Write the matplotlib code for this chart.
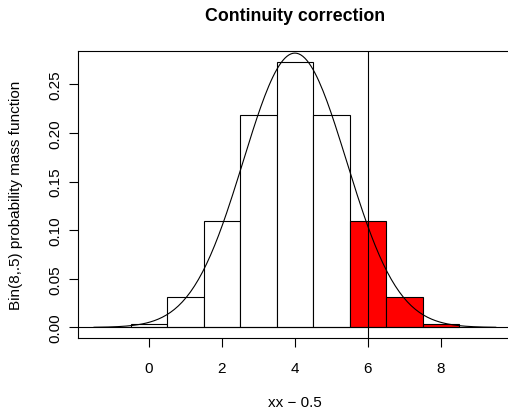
import numpy as np
import matplotlib; matplotlib.use("Agg")
import matplotlib.pyplot as plt

plt.rcParams["font.family"] = ["Liberation Sans", "DejaVu Sans"]

# Bin(8, .5) pmf
xx = [0, 1, 2, 3, 4, 5, 6, 7, 8]
pmf = [0.0039, 0.0313, 0.1094, 0.2188, 0.2734, 0.2188, 0.1094, 0.0313, 0.0039]
shaded = [6, 7, 8]          # upper tail, drawn in red
cut = 6                     # vertical line
mu, sd = 4.0, 1.414         # normal approximation
curve_lo, curve_hi = -1.5, 9.5

xticks = [0, 2, 4, 6, 8]
yticks = [0.00, 0.05, 0.10, 0.15, 0.20, 0.25]

FS = 11

fig = plt.figure(figsize=(5.08, 4.10), dpi=100)
ax = fig.add_axes([0.1535, 0.1732, 0.854, 0.700])

cols = ["red" if x in shaded else "white" for x in xx]
ax.bar(xx, pmf, width=1.0, color=cols, edgecolor="black", linewidth=0.8, zorder=2)

xs = np.linspace(curve_lo, curve_hi, 201)
ax.plot(xs, np.exp(-0.5 * ((xs - mu) / sd) ** 2) / (sd * np.sqrt(2 * np.pi)),
        color="black", linewidth=0.8, zorder=3)
ax.axvline(cut, color="black", linewidth=0.8, zorder=3)
ax.axhline(0, color="black", linewidth=0.8, zorder=3)

ax.set_xlim(curve_lo - 0.44, curve_hi + 0.44)
ax.set_ylim(-0.0109, 0.2843)
ax.set_xticks(xticks)
ax.set_xticklabels([str(t) for t in xticks], fontsize=FS)
ax.set_yticks(yticks)
ax.set_yticklabels([f"{t:.2f}" for t in yticks], fontsize=FS, rotation=90, va="center")
ax.tick_params(axis="both", length=6.3, width=0.8)
ax.tick_params(axis="x", pad=10)
ax.tick_params(axis="y", pad=5)
for s in ax.spines.values():
    s.set_linewidth(0.8)

ax.set_xlabel("xx \u2212 0.5", fontsize=FS, labelpad=15)
ax.set_ylabel("Bin(8,.5) probability mass function", fontsize=FS, labelpad=18)
ax.set_title("Continuity correction", fontsize=12.8, fontweight="bold", pad=22)

fig.savefig("out.png", dpi=100)
